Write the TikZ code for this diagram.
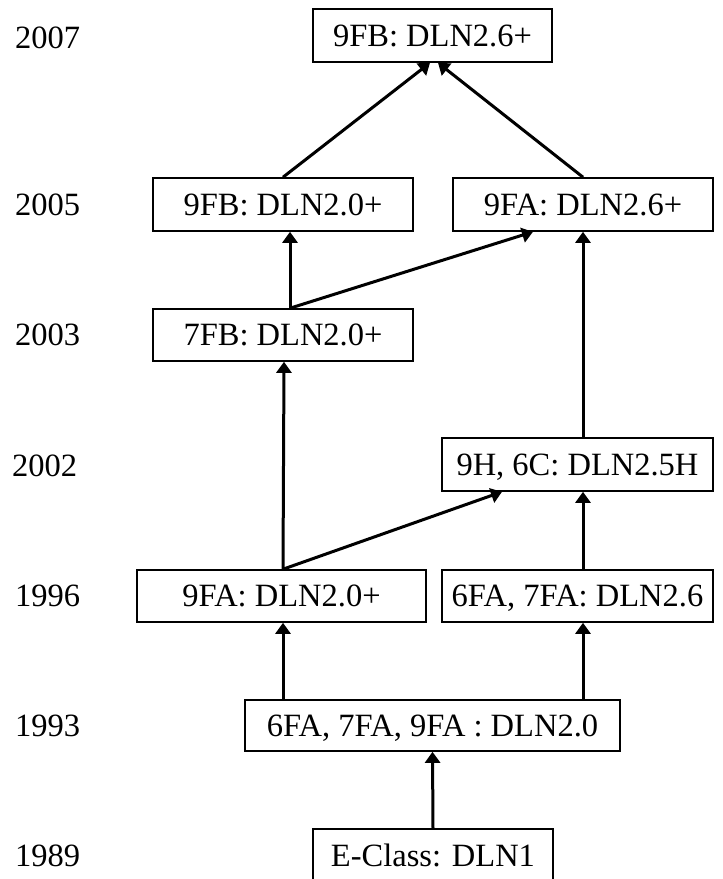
\documentclass[tikz,border=0pt]{standalone}
\usepackage{fontspec}
\setmainfont{Liberation Serif}
\usetikzlibrary{arrows.meta}
\begin{document}
\begin{tikzpicture}[x=1pt,y=-1pt,
  box/.style={draw,line width=1.6pt,inner sep=0pt,minimum height=53pt,
    text height=21.5pt,text depth=0pt,font=\fontsize{32.5}{39}\selectfont},
  year/.style={anchor=west,inner sep=0pt,text height=21.5pt,text depth=0pt,
    font=\fontsize{32.5}{39}\selectfont},
  arr/.style={line width=3pt,-{Triangle[width=15pt,length=11pt]}},
  ln/.style={line width=3pt}]
\useasboundingbox (0,0) rectangle (723,879);
% boxes
\node[box,minimum width=239pt] (n2007) at (432.5,35.5) {9FB: DLN2.6+};
\node[box,minimum width=260pt] (n2005a) at (283,204.5) {9FB: DLN2.0+};
\node[box,minimum width=260pt] (n2005b) at (583,204.5) {9FA: DLN2.6+};
\node[box,minimum width=260pt,minimum height=52pt] (n2003) at (283,335) {7FB: DLN2.0+};
\node[box,minimum width=271pt] (n2002) at (577.5,464.5) {9H, 6C: DLN2.5H};
\node[box,minimum width=289pt,minimum height=52pt] (n1996a) at (281.5,596) {9FA: DLN2.0+};
\node[box,minimum width=271pt,minimum height=52pt] (n1996b) at (577.5,596) {6FA, 7FA: DLN2.6};
\node[box,minimum width=375pt,minimum height=51pt] (n1993) at (432.5,725.5) {6FA, 7FA, 9FA : DLN2.0};
\node[box,minimum width=240pt] (n1989) at (433,855.5) {E-Class: DLN1};
% years
\node[year] (y2007) at (15,38) {2007};
\node[year] (y2005) at (15,204.5) {2005};
\node[year] (y2003) at (15,335) {2003};
\node[year] (y2002) at (12,466) {2002};
\node[year] (y1996) at (15,596) {1996};
\node[year] (y1993) at (15,725.5) {1993};
\node[year] (y1989) at (15,855.5) {1989};
% connectors
\draw[arr] (n1989.north) -- (n1993.south);
\draw[arr] ([xshift=-149.5pt]n1993.north) -- ([xshift=1.5pt]n1996a.south);
\draw[arr] ([xshift=150.5pt]n1993.north) -- ([xshift=5.5pt]n1996b.south);
\draw[arr] ([xshift=1.5pt]n1996a.north) -- ([xshift=1pt]n2003.south);
\draw[arr] ([xshift=1.5pt]n1996a.north) -- ([xshift=-75.5pt]n2002.south);
\draw[arr] ([xshift=5.5pt]n1996b.north) -- ([xshift=5.5pt]n2002.south);
\draw[arr] ([xshift=5.5pt]n2002.north) -- (n2005b.south);
\draw[arr] ([xshift=7pt]n2003.north) -- ([xshift=7pt]n2005a.south);
\draw[arr] ([xshift=7pt]n2003.north) -- ([xshift=-50pt]n2005b.south);
\draw[arr] (n2005a.north) -- ([xshift=-2.5pt]n2007.south);
\draw[arr] (n2005b.north) -- ([xshift=5.5pt]n2007.south);
\end{tikzpicture}
\end{document}
